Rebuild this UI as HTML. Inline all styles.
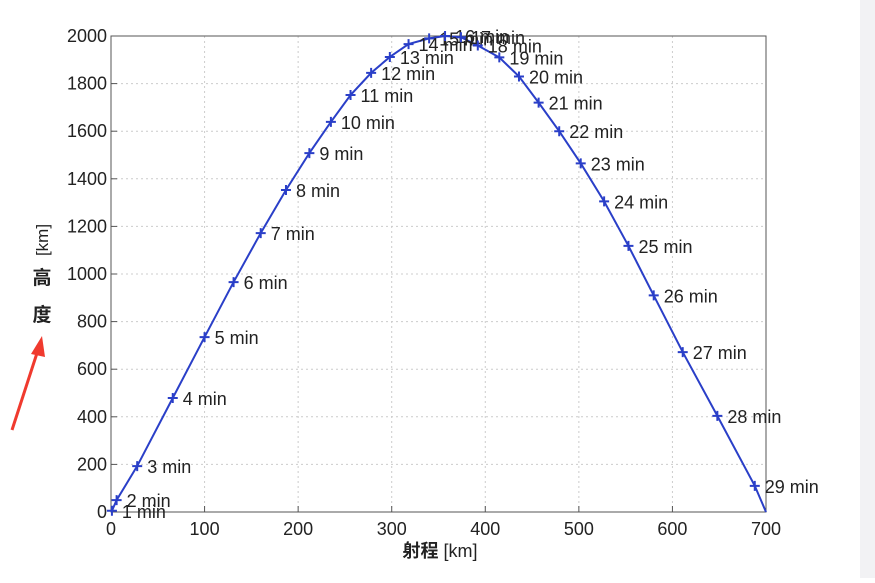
<!DOCTYPE html>
<html><head><meta charset="utf-8"><style>
body{margin:0;background:#fff;width:875px;height:578px;overflow:hidden}
svg text{font-family:"Liberation Sans","Noto Sans CJK SC",sans-serif;fill:#222}
</style></head><body>
<svg width="875" height="578">
<rect x="860" y="0" width="15" height="578" fill="#f2f2f4"/>
<g id="grid"></g>
<rect x="111" y="36" width="655" height="476" fill="none" stroke="#555" stroke-width="1"/>
<g id="ticks"></g>
<path id="line" fill="none" stroke="#2a3fc8" stroke-width="2"/>
<g id="marks"></g>
<text x="440" y="557" text-anchor="middle" font-size="18"><tspan font-weight="bold">射程</tspan> [km]</text>
<text transform="translate(48,240) rotate(-90)" text-anchor="middle" font-size="17">[km]</text>
<text x="42" y="284" text-anchor="middle" font-size="19" font-weight="bold">高</text>
<text x="42" y="321" text-anchor="middle" font-size="19" font-weight="bold">度</text>
<g>
<line x1="12" y1="430" x2="38" y2="350" stroke="#f03a2e" stroke-width="3"/>
<polygon points="42,336 31,354 45,357" fill="#f03a2e"/>
</g>
</svg>
<script>
const xTicks=[0,100,200,300,400,500,600,700];
const yTicks=[0,200,400,600,800,1000,1200,1400,1600,1800,2000];
const minutes=[1,2,3,4,5,6,7,8,9,10,11,12,13,14,15,16,17,18,19,20,21,22,23,24,25,26,27,28,29];
const ranges=[1,6,28,66,100,131,160,187,212,235,256,278,298,318,340,357,374,392,415,436,457,479,502,527,553,580,611,648,688];
const heights=[5,50,193,479,735,966,1172,1353,1508,1639,1752,1845,1912,1966,1990,2000,1995,1960,1910,1830,1720,1600,1465,1305,1118,910,672,404,110];
const endPoint=[700,0];
const NS="http://www.w3.org/2000/svg";
const X=v=>111+v*655/700, Y=v=>512-v*476/2000;
const grid=document.getElementById('grid'),ticks=document.getElementById('ticks'),marks=document.getElementById('marks');
function mk(tag,attrs,parent){const e=document.createElementNS(NS,tag);for(const k in attrs)e.setAttribute(k,attrs[k]);parent.appendChild(e);return e;}
xTicks.forEach(t=>{
 const g=mk('line',{x1:X(t),x2:X(t),y1:36,y2:512,stroke:'#ccc','stroke-dasharray':'2,3'},grid);
 
 
 const tk=mk('line',{x1:X(t),x2:X(t),y1:512,y2:506,stroke:'#555'},ticks);
 
 
 const l=mk('text',{x:X(t),y:535,'text-anchor':'middle','font-size':18},ticks);
 l.textContent=t;
 
 
});
yTicks.forEach(t=>{
 const g=mk('line',{x1:111,x2:766,y1:Y(t),y2:Y(t),stroke:'#ccc','stroke-dasharray':'2,3'},grid);
 
 
 const tk=mk('line',{x1:111,x2:117,y1:Y(t),y2:Y(t),stroke:'#555'},ticks);
 
 
 const l=mk('text',{x:107,y:Y(t)+6,'text-anchor':'end','font-size':18},ticks);
 l.textContent=t;
 
 
});
let d='M'+X(0)+','+Y(0);
ranges.forEach((r,i)=>{d+=' L'+X(r)+','+Y(heights[i]);});
d+=' L'+X(endPoint[0])+','+Y(endPoint[1]);
document.getElementById('line').setAttribute('d',d);
ranges.forEach((r,i)=>{
 const x=X(r),y=Y(heights[i]);
 const m=mk('path',{d:`M${x-5},${y}H${x+5}M${x},${y-5}V${y+5}`,stroke:'#2a3fc8','stroke-width':2},marks);
 
 
 const l=mk('text',{x:x+10,y:y+7,'font-size':18},marks);
 l.textContent=minutes[i]+' min';
 
 
});
</script>
</body></html>
